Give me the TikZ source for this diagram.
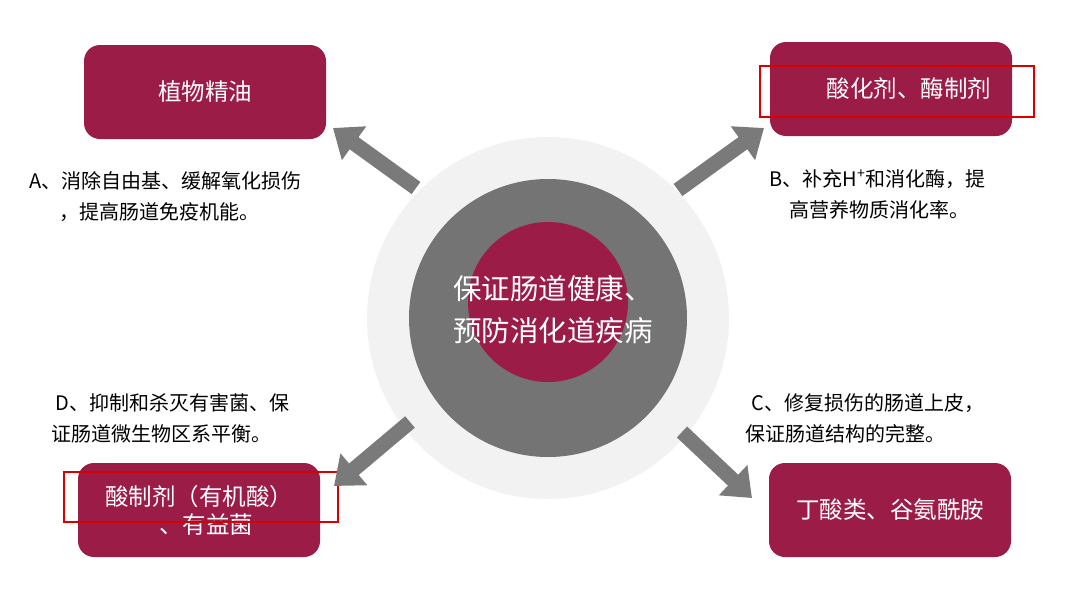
\documentclass[tikz,border=0pt]{standalone}
\usepackage{fontspec}
\setmainfont{Noto Sans CJK SC}
\usetikzlibrary{arrows.meta}
\definecolor{crim}{HTML}{9B1C47}
\definecolor{dg}{HTML}{747474}
\definecolor{lg}{HTML}{F2F2F2}
\definecolor{ag}{HTML}{7A7A7A}
\begin{document}
\begin{tikzpicture}[x=1pt,y=-1pt,
  box/.style={fill=crim,rounded corners=16pt,minimum width=242pt,minimum height=94pt,text=white,font=\fontsize{23.5}{28}\selectfont,align=center},
  desc/.style={font=\fontsize{20}{31}\selectfont,align=left},
  redbox/.style={draw=red!85!black,line width=1.3pt},
  arr/.style={draw=ag,line width=15pt,-{Triangle[length=26pt,width=40pt]}}]
\useasboundingbox (0,0) rectangle (1080,608);
\fill[lg] (548,318) circle (181);
\fill[dg] (548,318) circle (139);
\fill[crim] (548,302) circle (80);
\node[text=white,font=\fontsize{28.5}{42}\selectfont,align=center] (c) at (553,310) {保证肠道健康、\\预防消化道疾病};
\node[box] (a) at (205,92) {植物精油};
\node[box,text width=200pt,align=right] (b) at (891,89) {酸化剂、酶制剂};
\node[box,align=left] (d) at (199,510) {酸制剂（有机酸）\\\hspace{2.3em}、有益菌};
\node[box] (e) at (890,510) {丁酸类、谷氨酰胺};
\draw[redbox] (760,66) rectangle (1034,117);
\draw[redbox] (64,472) rectangle (338,522);
\coordinate (a1) at (416,188); \coordinate (a2) at (333,128);
\coordinate (b1) at (678,190); \coordinate (b2) at (764,128);
\coordinate (d1) at (410,422); \coordinate (d2) at (334,486);
\coordinate (e1) at (682,432); \coordinate (e2) at (752,498);
\draw[arr] (a1) -- (a2);
\draw[arr] (b1) -- (b2);
\draw[arr] (d1) -- (d2);
\draw[arr] (e1) -- (e2);
\node[desc,anchor=north west] (ta) at (26,168) {A、消除自由基、缓解氧化损伤\\\hspace{1.5em}，提高肠道免疫机能。};
\node[desc,anchor=north west] (tb) at (766,166) {B、补充H\textsuperscript{+}和消化酶，提\\\hspace{1em}高营养物质消化率。};
\node[desc,anchor=north west] (tc) at (742,390) {\hspace{0.3em}C、修复损伤的肠道上皮，\\保证肠道结构的完整。};
\node[desc,anchor=north west] (td) at (48,390) {\hspace{0.2em}D、抑制和杀灭有害菌、保\\证肠道微生物区系平衡。};
\end{tikzpicture}
\end{document}
